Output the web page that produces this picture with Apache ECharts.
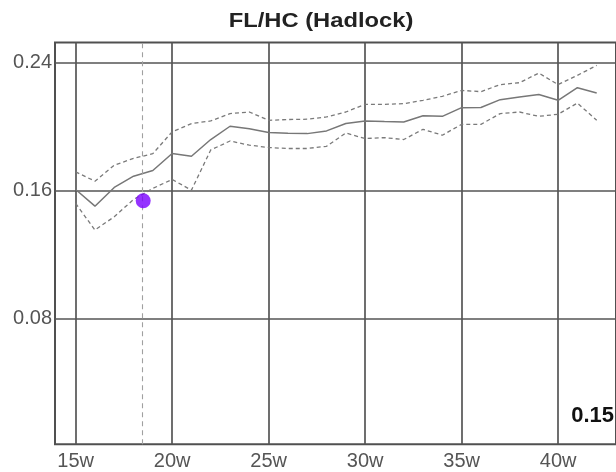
<!DOCTYPE html>
<html>
<head>
<meta charset="utf-8">
<script src="https://cdn.jsdelivr.net/npm/echarts@6/dist/echarts.min.js"></script>
<style>
html,body{margin:0;padding:0;background:#fff;}
#chart{width:616px;height:472px;}
</style>
</head>
<body>
<div id="chart"></div>
<script>
var chartTitle = 'FL/HC (Hadlock)';
var weeks = [15,16,17,18,19,20,21,22,23,24,25,26,27,28,29,30,31,32,33,34,35,36,37,38,39,40,41,42];
var median = [0.1606,0.1502,0.1619,0.1689,0.1725,0.1831,0.1814,0.1918,0.2001,0.1985,0.1962,0.1957,0.1955,0.1972,0.2018,0.2034,0.2030,0.2028,0.2067,0.2063,0.2117,0.2118,0.2167,0.2184,0.2199,0.2163,0.2242,0.2209];
var upper = [0.1716,0.1658,0.1758,0.1800,0.1830,0.1966,0.2018,0.2034,0.2080,0.2090,0.2038,0.2043,0.2045,0.2059,0.2090,0.2138,0.2138,0.2142,0.2163,0.2188,0.2225,0.2217,0.2261,0.2273,0.2333,0.2261,0.2319,0.2381];
var lower = [0.1519,0.1353,0.1436,0.1544,0.1613,0.1669,0.1602,0.1853,0.1909,0.1883,0.1868,0.1862,0.1862,0.1876,0.1959,0.1924,0.1930,0.1918,0.1982,0.1945,0.2013,0.2013,0.2080,0.2090,0.2063,0.2076,0.2146,0.2038];
var xTicks = [15,20,25,30,35,40];
var xTickLabels = ['15w','20w','25w','30w','35w','40w'];
var yTicks = [0.08,0.16,0.24];
var yTickLabels = ['0.08','0.16','0.24'];
var gaWeek = 18.43;
var markerWeek = 18.5;
var markerValue = 0.1536;
var markerLabel = '0.15';

function pairs(xs, ys){ return xs.map(function(x,i){ return [x, ys[i]]; }); }

var chart = echarts.init(document.getElementById('chart'), null, {renderer:'canvas'});
var gridColor = '#555';
var option = {
  animation: false,
  backgroundColor: '#ffffff',
  grid: {left: 55, right: -7, top: 42.5, bottom: 27.7, show: true, borderColor: '#505050', borderWidth: 2, backgroundColor: 'transparent'},
  xAxis: {
    type: 'value', min: 13.93, max: 43,
    axisLine: {show: false},
    axisTick: {show: false, customValues: xTicks},
    splitLine: {show: true, lineStyle: {color: gridColor, width: 1.7}},
    axisLabel: {
      customValues: xTicks, margin: 7, fontSize: 20, color: '#555',
      fontFamily: 'Liberation Sans, Arial, sans-serif',
      formatter: function(v){ var i = xTicks.indexOf(Math.round(v)); return i >= 0 ? xTickLabels[i] : ''; }
    }
  },
  yAxis: {
    type: 'value', min: 0.0015, max: 0.2524,
    axisLine: {show: false},
    axisTick: {show: false, customValues: yTicks},
    splitLine: {show: true, lineStyle: {color: gridColor, width: 1.7}},
    axisLabel: {
      customValues: yTicks, margin: 3, fontSize: 20, color: '#555',
      fontFamily: 'Liberation Sans, Arial, sans-serif',
      formatter: function(v){ var i = yTicks.findIndex(function(t){ return Math.abs(t - v) < 1e-6; }); return i >= 0 ? yTickLabels[i] : ''; }
    }
  },
  series: [
    {
      type: 'line', data: pairs(weeks, upper), symbol: 'none', silent: true,
      lineStyle: {color: '#7a7a7a', width: 1.3, type: [4, 3]}
    },
    {
      type: 'line', data: pairs(weeks, lower), symbol: 'none', silent: true,
      lineStyle: {color: '#7a7a7a', width: 1.3, type: [4, 3]}
    },
    {
      type: 'line', data: pairs(weeks, median), symbol: 'none', silent: true,
      lineStyle: {color: '#777', width: 1.5},
      markLine: {
        silent: true, symbol: ['none','none'], label: {show: false},
        lineStyle: {color: '#a0a0a0', width: 1.1, type: [5, 4]},
        data: [{xAxis: gaWeek}]
      }
    },
    {
      type: 'scatter', data: [[markerWeek, markerValue]], symbol: 'circle', symbolSize: 15,
      itemStyle: {color: '#7a00ff'}, silent: true, z: 5
    }
  ],
  graphic: [
    {type: 'text', x: 321, y: 21, scaleX: 1.13, style: {text: chartTitle, textAlign: 'center', textVerticalAlign: 'middle', font: 'bold 21px "Liberation Sans", Arial, sans-serif', fill: '#222'}},
    {type: 'text', x: 614, y: 416, style: {text: markerLabel, textAlign: 'right', textVerticalAlign: 'middle', font: 'bold 22px "Liberation Sans", Arial, sans-serif', fill: '#111'}}
  ]
};
chart.setOption(option);
</script>
</body>
</html>
